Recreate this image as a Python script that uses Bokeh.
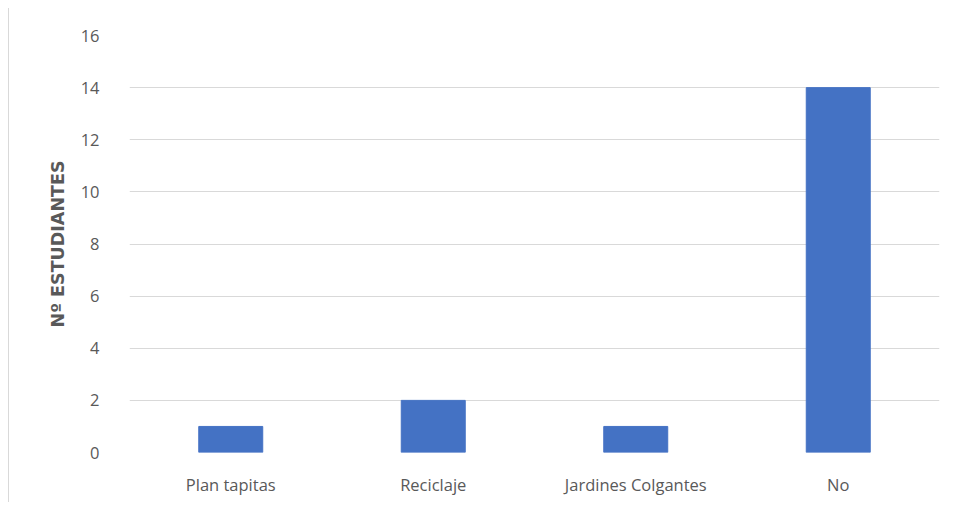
from bokeh.plotting import figure
from bokeh.models import ColumnDataSource, Range1d, FixedTicker
from bokeh.embed import file_html
from bokeh.resources import INLINE

categories = ["Plan tapitas", "Reciclaje", "Jardines Colgantes", "No"]
values = [1, 2, 1, 14]
y_ticks = [0, 2, 4, 6, 8, 10, 12, 14, 16]

src = ColumnDataSource(data=dict(cat=categories, val=values))

p = figure(x_range=categories, y_range=Range1d(0, 16), width=938, height=494,
           output_backend="svg", toolbar_location=None,
           min_border_left=120, min_border_right=8, min_border_top=27, min_border_bottom=50)
p.styles = {"border-left": "1px solid #d9d9d9", "margin-left": "8px", "margin-top": "8px"}
p.vbar(x="cat", top="val", width=0.316, source=src, color="#4472c4", line_color="#4472c4")

p.outline_line_color = None
p.xgrid.grid_line_color = None
p.ygrid.grid_line_color = "#d9d9d9"
p.ygrid.grid_line_width = 1
p.yaxis.ticker = FixedTicker(ticks=y_ticks)

for ax in (p.xaxis[0], p.yaxis[0]):
    ax.axis_line_color = None
    ax.major_tick_line_color = None
    ax.minor_tick_line_color = None
    ax.major_label_text_font = "Open Sans"
    ax.major_label_text_font_size = "16.5px"
    ax.major_label_text_color = "#595959"

p.xaxis.major_label_standoff = 14
p.yaxis.major_label_standoff = 24
p.yaxis.axis_label = "Nº ESTUDIANTES"
p.yaxis.axis_label_text_font = "DejaVu Sans"
p.yaxis.axis_label_text_font_style = "bold"
p.yaxis.axis_label_text_font_size = "17.5px"
p.yaxis.axis_label_text_color = "#595959"
p.yaxis.axis_label_standoff = 10

open("out.html", "w").write(file_html(p, INLINE))
